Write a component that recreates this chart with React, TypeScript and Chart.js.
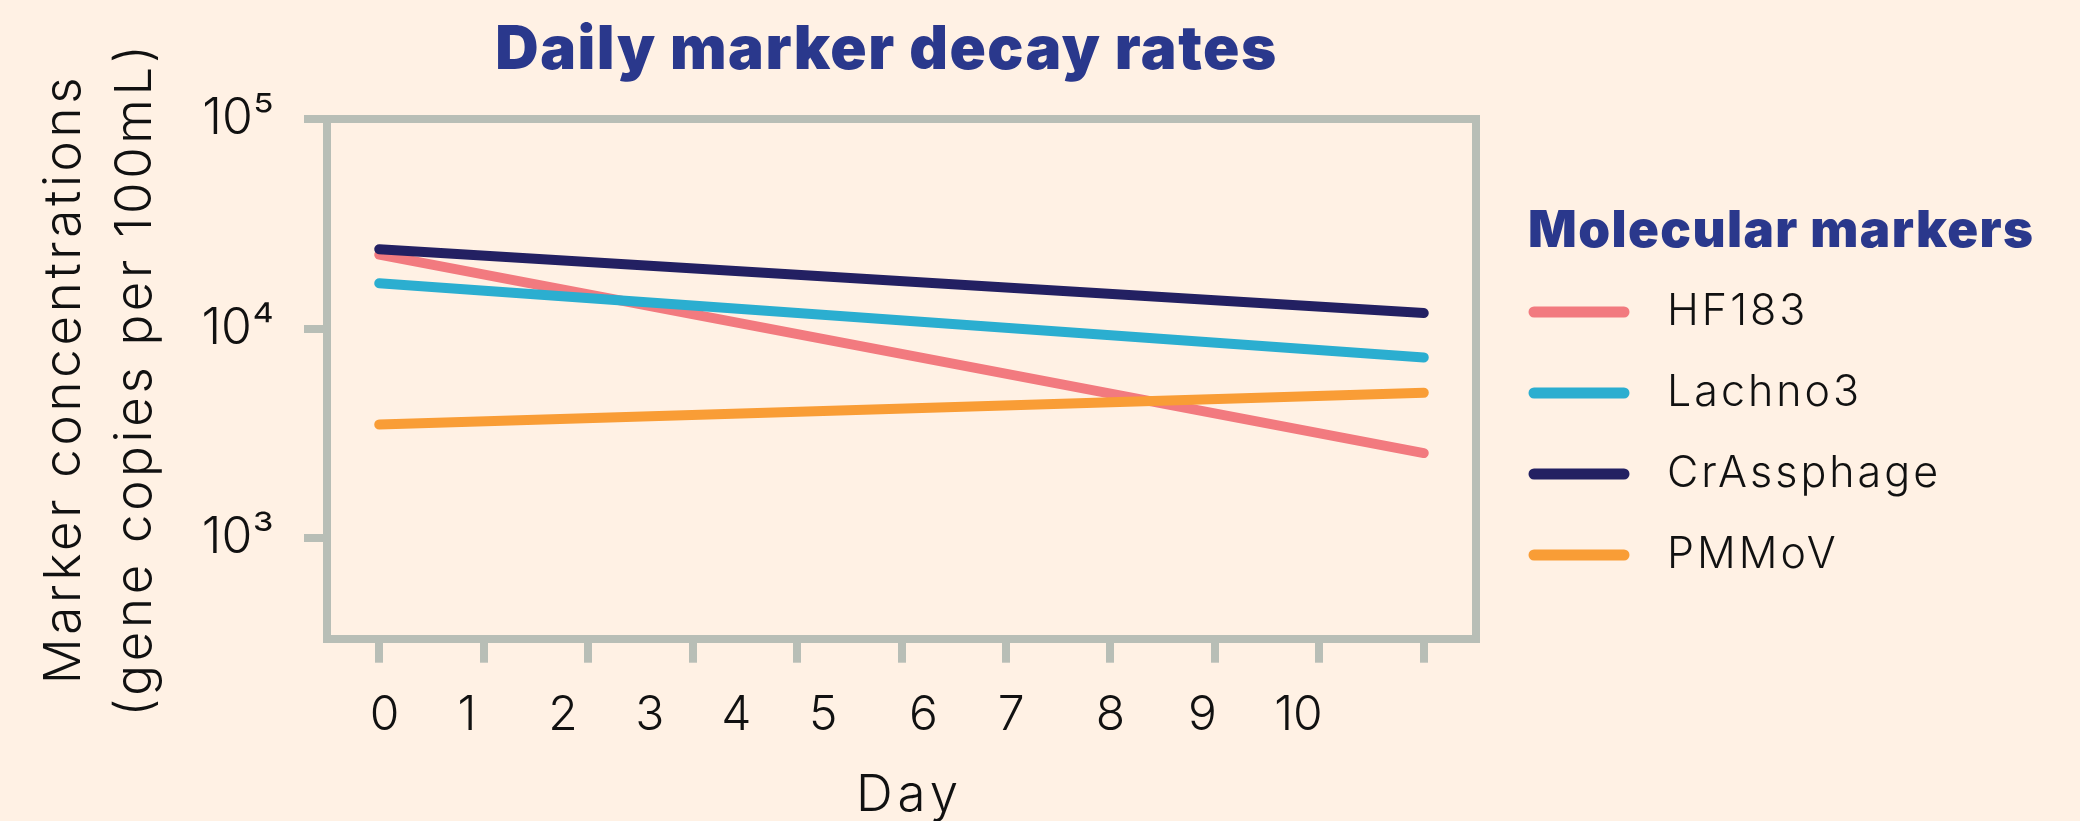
import React, { useEffect, useRef } from 'react';
import { Chart, registerables } from 'chart.js';

Chart.register(...registerables);

// ---- data ----
const dayTicks = [0, 1, 2, 3, 4, 5, 6, 7, 8, 9, 10];
const dayLabels = ['0', '1', '2', '3', '4', '5', '6', '7', '8', '9', '10'];
// where each day label sits along the day axis (labels are not centred on the tick marks)
const dayLabelAt = [0.05, 0.84, 1.76, 2.59, 3.42, 4.25, 5.21, 6.05, 7.0, 7.88, 8.8];
const concTicks = [1000, 10000, 100000];
const concLabels = ['10³', '10⁴', '10⁵'];

const sampleDays = [0, 10];
const markerNames = ['HF183', 'Lachno3', 'CrAssphage', 'PMMoV'];
const hf183 = [22600, 2550];
const lachno3 = [16500, 7300];
const crAssphage = [24000, 11900];
const pmmov = [3490, 4950];

const markerColors = ['#F27A7F', '#2BAED0', '#232062', '#F99D36'];
const drawOrder = [4, 3, 2, 1];

const BG = '#FFF1E4';
const FRAME = '#B8BEB6';
const NAVY_TEXT = '#2A388C';
const INK = '#111111';
const FONT = 'Inter, "Noto Sans", sans-serif';

const W = 2080;
const H = 821;

function withSpacing(obj: any, method: string, spacing: string, dx = 0) {
  if (obj[`__patched_${method}`]) return;
  const orig = obj[method];
  obj[method] = function (...args: any[]) {
    const ctx = this.ctx;
    ctx.save();
    (ctx as any).letterSpacing = spacing;
    if (dx) ctx.translate(dx, 0);
    orig.apply(this, args);
    ctx.restore();
  };
  obj[`__patched_${method}`] = true;
}

const markerLegend = {
  id: 'markerLegend',
  beforeDraw(chart: any) {
    if (chart.titleBlock) withSpacing(chart.titleBlock, 'draw', '1.5px', -15);
  },
  afterDraw(chart: any) {
    const ctx = chart.ctx;
    ctx.save();
    ctx.textAlign = 'left';
    ctx.textBaseline = 'alphabetic';
    ctx.fillStyle = NAVY_TEXT;
    (ctx as any).letterSpacing = '1.4px';
    ctx.font = `900 51px ${FONT}`;
    ctx.fillText('Molecular markers', 1528, 247);
    const baselines = [325, 406, 487, 568];
    (ctx as any).letterSpacing = '3px';
    chart.data.datasets.forEach((ds: any, i: number) => {
      const b = baselines[i];
      ctx.strokeStyle = ds.borderColor;
      ctx.lineWidth = 11;
      ctx.lineCap = 'round';
      ctx.beginPath();
      ctx.moveTo(1534, b - 13);
      ctx.lineTo(1624, b - 13);
      ctx.stroke();
      ctx.fillStyle = INK;
      ctx.font = `300 43px ${FONT}`;
      ctx.fillText(ds.label, 1667, b);
    });
    ctx.restore();
  },
};

const background = {
  id: 'bgFill',
  beforeDraw(chart: any) {
    const ctx = chart.ctx;
    ctx.save();
    ctx.fillStyle = BG;
    ctx.fillRect(0, 0, chart.width, chart.height);
    ctx.restore();
  },
};

export default function App() {
  const ref = useRef<HTMLCanvasElement | null>(null);

  useEffect(() => {
    if (!ref.current) return;
    const series = [hf183, lachno3, crAssphage, pmmov];
    const datasets = series.map((vals, i) => ({
      label: markerNames[i],
      data: sampleDays.map((d, j) => ({ x: d, y: vals[j] })),
      borderColor: markerColors[i],
      backgroundColor: markerColors[i],
      borderWidth: 10,
      borderCapStyle: 'round' as const,
      pointRadius: 0,
      tension: 0,
      order: drawOrder[i],
    }));

    const frameBorder = { display: true, width: 8, color: FRAME };

    const chart = new Chart(ref.current, {
      type: 'line',
      data: { datasets },
      plugins: [background, markerLegend],
      options: {
        animation: false,
        responsive: false,
        layout: { padding: { left: 0, right: 604, top: 0, bottom: 0 } },
        plugins: {
          legend: { display: false },
          tooltip: { enabled: false },
          title: {
            display: true,
            text: 'Daily marker decay rates',
            fullSize: false,
            color: NAVY_TEXT,
            font: { family: FONT, size: 60, weight: '900', lineHeight: 1.2 },
            padding: { top: 15, bottom: 32.4 },
          },
        },
        scales: {
          x: {
            type: 'linear',
            position: 'bottom',
            min: -0.5,
            max: 10.5,
            weight: 0,
            afterBuildTicks: (s: any) => { s.ticks = dayTicks.map((v) => ({ value: v })); },
            afterFit: (s: any) => { s.height = 30; },
            ticks: { display: false },
            grid: { display: true, drawOnChartArea: false, drawTicks: true, tickLength: 24, tickWidth: 8, lineWidth: 8, tickColor: FRAME, color: FRAME },
            border: frameBorder,
          },
          xLabels: {
            type: 'linear',
            position: 'bottom',
            min: -0.5,
            max: 10.5,
            weight: 1,
            afterBuildTicks: (s: any) => { s.ticks = dayLabelAt.map((v) => ({ value: v })); },
            afterFit: (s: any) => { s.height = 152.3; withSpacing(s, 'drawTitle', '5px', 8); },
            ticks: {
              autoSkip: false,
              maxRotation: 0,
              padding: 18,
              color: INK,
              font: { family: FONT, size: 48, weight: '300' },
              callback: (_v: any, i: number) => dayLabels[i],
            },
            grid: { display: false, drawTicks: false },
            border: { display: false },
            title: {
              display: true,
              text: 'Day',
              color: INK,
              font: { family: FONT, size: 51, weight: '300', lineHeight: 1 },
              padding: { top: 0, bottom: 0 },
            },
          },
          xTop: {
            type: 'linear',
            position: 'top',
            min: -0.5,
            max: 10.5,
            afterFit: (s: any) => { s.height = 0; },
            ticks: { display: false },
            grid: { display: false, drawTicks: false, lineWidth: 8 },
            border: frameBorder,
          },
          y: {
            type: 'logarithmic',
            position: 'left',
            min: 331,
            max: 100000,
            afterBuildTicks: (s: any) => { s.ticks = concTicks.map((v) => ({ value: v })); },
            afterFit: (s: any) => { s.width = 327; withSpacing(s, 'drawTitle', '3.7px'); },
            ticks: {
              padding: 30,
              color: INK,
              font: { family: FONT, size: 50, weight: '300' },
              callback: (_v: any, i: number) => concLabels[i],
            },
            grid: { display: true, drawOnChartArea: false, drawTicks: true, tickLength: 23, tickWidth: 8, lineWidth: 8, tickColor: FRAME, color: FRAME },
            border: frameBorder,
            title: {
              display: true,
              text: ['Marker concentrations', '(gene copies per 100mL)'],
              color: INK,
              font: { family: FONT, size: 51, weight: '300', lineHeight: 1.4 },
              padding: { top: 29, bottom: 0 },
            },
          },
          yRight: {
            type: 'linear',
            position: 'right',
            min: 0,
            max: 1,
            afterFit: (s: any) => { s.width = 0; },
            ticks: { display: false },
            grid: { display: false, drawTicks: false, lineWidth: 8 },
            border: frameBorder,
          },
        },
      } as any,
    });
    return () => chart.destroy();
  }, []);

  return (
    <div style={{ position: 'fixed', left: 0, top: 0, width: W, height: H, background: BG }}>
      <canvas ref={ref} width={W} height={H} style={{ display: 'block', width: W, height: H }} />
    </div>
  );
}
